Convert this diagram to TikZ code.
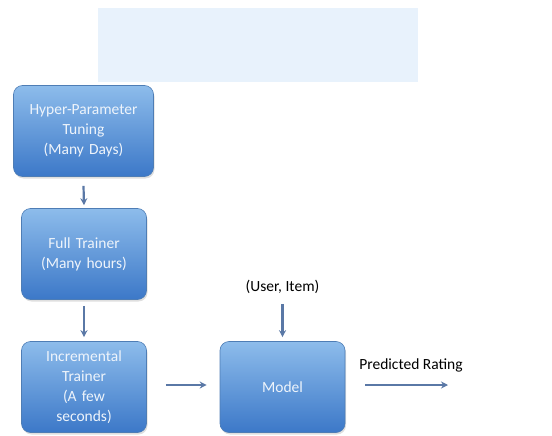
\documentclass[tikz,border=0pt]{standalone}
\usepackage{fontspec}
\setmainfont{Carlito}
\usetikzlibrary{shadows,arrows.meta}

\definecolor{boxtop}{HTML}{8DBCEB}
\definecolor{boxbot}{HTML}{3C78C8}
\definecolor{boxline}{HTML}{4E7DB5}
\definecolor{boxtext}{HTML}{EEF4FB}
\definecolor{arrowc}{HTML}{5A78A6}
\definecolor{haze}{HTML}{E8F2FC}

\tikzset{
  stage/.style={rectangle, rounded corners=9pt, draw=boxline, line width=0.6pt,
    top color=boxtop, bottom color=boxbot, text=boxtext, align=center,
    inner sep=0pt, minimum height=91pt, text width=120pt,
    font=\fontsize{15.5}{20}\selectfont,
    drop shadow={opacity=0.25, shadow xshift=1pt, shadow yshift=-2pt}},
  flow/.style={-{Stealth[length=7pt,width=7pt]}, draw=arrowc, line width=2.2pt},
  lbl/.style={font=\fontsize{15.5}{20}\selectfont, text=black, inner sep=0pt}
}

\begin{document}
\begin{tikzpicture}[x=1pt,y=-1pt]
\useasboundingbox (0,0) rectangle (552,436);
% faint panel at the top
\fill[haze] (98,8) rectangle (418,82);

\node [stage, minimum width=140pt, text width=130pt] (tune) at (83.5,131) {Hyper-Parameter\\Tuning\\(Many Days)};
\node [stage, minimum width=125pt] (full) at (84,254) {Full Trainer\\(Many hours)};
\node [stage, minimum width=125pt] (incr) at (84,387) {Incremental\\Trainer\\(A few\\seconds)};
\node [stage, minimum width=125pt] (model) at (282.5,387) {Model};

\node [lbl] (query) at (282.5,287) {(User, Item)};
\node [lbl] (rating) at (411,365) {Predicted Rating};
\coordinate (out) at (448,385);

\draw [flow] ([yshift=-9pt]tune.south) -- ([yshift=3pt]full.north);
\draw [flow] ([yshift=-6pt]full.south) -- ([yshift=4pt]incr.north);
\draw [flow] ([xshift=19pt,yshift=2pt]incr.east) -- ([xshift=-13pt,yshift=2pt]model.west);
\draw [flow] ([yshift=-10pt]query.south) -- ([yshift=4pt]model.north);
\draw [flow] ([xshift=20pt,yshift=2pt]model.east) -- (out);
\end{tikzpicture}
\end{document}
